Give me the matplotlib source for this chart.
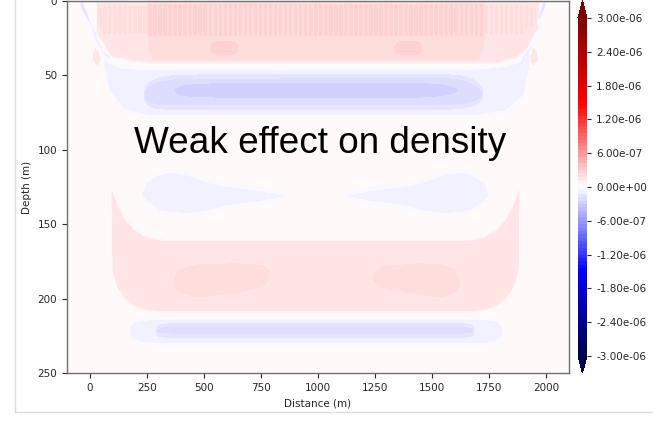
import numpy as np
import matplotlib
matplotlib.use("Agg")
import matplotlib.pyplot as plt
from matplotlib.lines import Line2D

# Outlines of the density anomaly patches: distance nodes (m), upper and
# lower depth of the patch at each node (m). Amplitudes in kg/m3.
surf_outer = ([32, 36, 62, 106, 258, 1781, 1868, 1933, 1964, 1968],
              [-3, -3, -3, -3, -3, -3, -3, -3, -3, -3],
              [2, 25, 33, 38, 41.5, 41.5, 38, 30, 20, 2])
surf_mid = ([255, 262, 280, 1700, 1720, 1730],
            [-3, -3, -3, -3, -3, -3],
            [20, 33, 39, 39, 33, 20])
surf_stripes = ([36, 62, 1900, 1955],
                [5.5, 3.5, 3.5, 5.5],
                [13, 22, 22, 13])
surf_spot_l = ([528, 545, 562, 628, 640, 649], [31.5, 29, 28, 28, 29, 31.5], [32, 34, 35, 35, 34, 32])
surf_spot_r = ([1337, 1350, 1367, 1432, 1445, 1454], [31.5, 29, 28, 28, 29, 31.5], [32, 34, 35, 35, 34, 32])

band_outer = ([62, 84, 149, 258, 1693, 1824, 1903, 1937],
              [40, 41.5, 45.5, 46, 46, 44, 40, 35],
              [41.5, 60, 72.5, 77, 77, 73.5, 63.5, 37])
band_mid = ([236, 245, 260, 300, 388, 1563, 1640, 1690, 1710, 1724],
            [63, 59, 56.5, 53.5, 51.5, 51, 52.5, 55.5, 58, 62],
            [63.5, 67, 69, 70.5, 71, 71, 70, 68, 66, 63.5])
band_core = ([371, 380, 400, 450, 606, 1432, 1540, 1590, 1605, 1615],
             [60, 58, 57, 56, 55, 55, 56, 57.5, 58.5, 60],
             [60.5, 62.5, 63.5, 64.5, 65, 65, 64, 62.5, 61.5, 60.5])

lens_l = ([228, 245, 301, 345, 432, 532, 606, 750, 854],
          [130.5, 122, 117, 115, 117, 122.5, 124.5, 127.5, 130.5],
          [131.5, 134, 140.5, 142, 143, 140.5, 137.5, 134.5, 131.5])
lens_r = ([1124, 1228, 1372, 1446, 1545, 1633, 1676, 1732, 1750],
          [130.5, 127.5, 124.5, 122.5, 117, 115, 117, 122, 130.5],
          [131.5, 134.5, 137.5, 140.5, 143, 142, 140.5, 134, 131.5])

bowl = ([97, 101, 119, 149, 193, 249, 323, 1663, 1728, 1785, 1829, 1859, 1877, 1881],
        [127.5, 129, 137.5, 146, 154, 159, 161, 161, 159, 154, 146, 137.5, 129, 127.5],
        [128, 181, 191, 199, 204.5, 208, 209, 209, 208, 204.5, 199, 191, 181, 128])
bowl_spot_l = ([367, 388, 475, 649, 758, 789],
               [189, 181, 177.5, 177, 178, 183],
               [191, 195.5, 198.5, 195.5, 191.5, 186])
bowl_spot_r = ([1245, 1280, 1432, 1541, 1598, 1620],
               [184, 179, 177, 177.5, 181, 189],
               [187.5, 192, 196.5, 198.5, 195.5, 191])

deep_outer = ([171, 184, 214, 280, 1737, 1781, 1802, 1811],
              [222, 217, 215, 214, 214, 215, 217.5, 222],
              [222.5, 227, 229, 230, 230, 228.5, 226.5, 222.5])
deep_core = ([288, 300, 323, 388, 1607, 1659, 1675, 1685],
             [221.5, 219.5, 218.5, 218, 218, 218.5, 219.5, 221.5],
             [222, 223.5, 224, 224.5, 224.5, 224, 223.5, 222])

# thin streaks against the side walls
wall_blue_l = ([-45, -38, -12, 6], [-3, -3, 6.5, 14.5], [1, 5.5, 13.5, 16])
wall_lav_l = ([6, 19, 62, 93], [14.7, 18.8, 28, 37], [17, 25.5, 37, 40])
wall_red_l = ([14, 23, 36, 45], [37, 32, 33.5, 39], [37.5, 41.5, 43.5, 39.5])
wall_blue_r = ([1959, 1972, 1994, 2003], [14.5, 6.5, -3, -3], [16, 13.5, 5.5, 1])
wall_lav_r = ([1890, 1920, 1955, 1981], [39, 30, 20, 13.5], [41.5, 37, 25.5, 15])
wall_red_r = ([1933, 1942, 1955, 1964], [39, 32, 33.5, 39], [39.5, 43, 41.5, 39.5])

patches = [surf_outer, surf_mid, surf_spot_l, surf_spot_r,
           band_outer, band_mid, band_core, lens_l, lens_r,
           bowl, bowl_spot_l, bowl_spot_r, deep_outer, deep_core,
           wall_blue_l, wall_lav_l, wall_red_l, wall_blue_r, wall_lav_r, wall_red_r]
amps = [1.5e-7, 0.8e-7, 0.5e-7, 0.5e-7,
        -1.2e-7, -0.9e-7, -0.9e-7, -1.2e-7, -1.2e-7,
        1.5e-7, 0.8e-7, 0.8e-7, -1.2e-7, -0.9e-7,
        -1.5e-7, -1.2e-7, 1.5e-7, -1.5e-7, -1.2e-7, 1.5e-7]
stripe_amp = 0.6e-7
stripe_spacing = 22.0
rho_background = 1e-9

cbar_ticks = [-3e-6, -2.4e-6, -1.8e-6, -1.2e-6, -6e-7, 0, 6e-7, 1.2e-6, 1.8e-6, 2.4e-6, 3e-6]

x = np.arange(-100, 2100.1, 2.0)
z = np.arange(0, 250.1, 0.5)
X, Z = np.meshgrid(x, z)


def sig(u):
    return 1.0 / (1.0 + np.exp(-np.clip(u, -50, 50)))


def strip(xs, top, bot, edge=0.6):
    t = np.interp(X, xs, top)
    b = np.interp(X, xs, bot)
    inside = (X >= xs[0]) & (X <= xs[-1])
    return sig((Z - t) / edge) * sig((b - Z) / edge) * inside


rho = np.full_like(X, rho_background)
for p, a in zip(patches, amps):
    rho += a * strip(*p)
rho += stripe_amp * strip(*surf_stripes) * (np.cos(2 * np.pi * X / stripe_spacing) > 0)

fig = plt.figure(figsize=(6.53, 4.25), dpi=100)
ax = fig.add_axes([0.1026, 0.1224, 0.7688, 0.8753])
cax = fig.add_axes([0.8851, 0.1224, 0.0138, 0.8753])

levels = np.linspace(-3e-6, 3e-6, 101)
cf = ax.contourf(X, Z, rho, levels=levels, cmap="seismic", extend="both")
ax.set_xlim(-100, 2100)
ax.set_ylim(250, 0)
ax.set_xticks(np.arange(0, 2001, 250))
ax.set_yticks(np.arange(0, 251, 50))
ax.set_xlabel("Distance (m)", fontsize=7.5, color="#262626")
ax.set_ylabel("Depth (m)", fontsize=7.5, color="#262626")
ax.tick_params(labelsize=7.5, colors="#262626", length=3.5, width=0.8)
for s in ax.spines.values():
    s.set_color("#707070")
    s.set_linewidth(1.0)

ax.text(1010, 96, "Weak effect on density", fontsize=26.6, family="Liberation Sans",
        ha="center", va="center", color="black")

cb = fig.colorbar(cf, cax=cax, ticks=cbar_ticks, format="%.2e")
cb.ax.tick_params(labelsize=7.5, colors="#262626", length=3, width=0.8)
cb.outline.set_visible(False)

# frame of the surrounding page
fig.add_artist(Line2D([15 / 653, 15 / 653], [13 / 425, 1], color="#dcdcdc", lw=1))
fig.add_artist(Line2D([15 / 653, 1], [13 / 425, 13 / 425], color="#dcdcdc", lw=1))

fig.savefig("out.png", dpi=100)
